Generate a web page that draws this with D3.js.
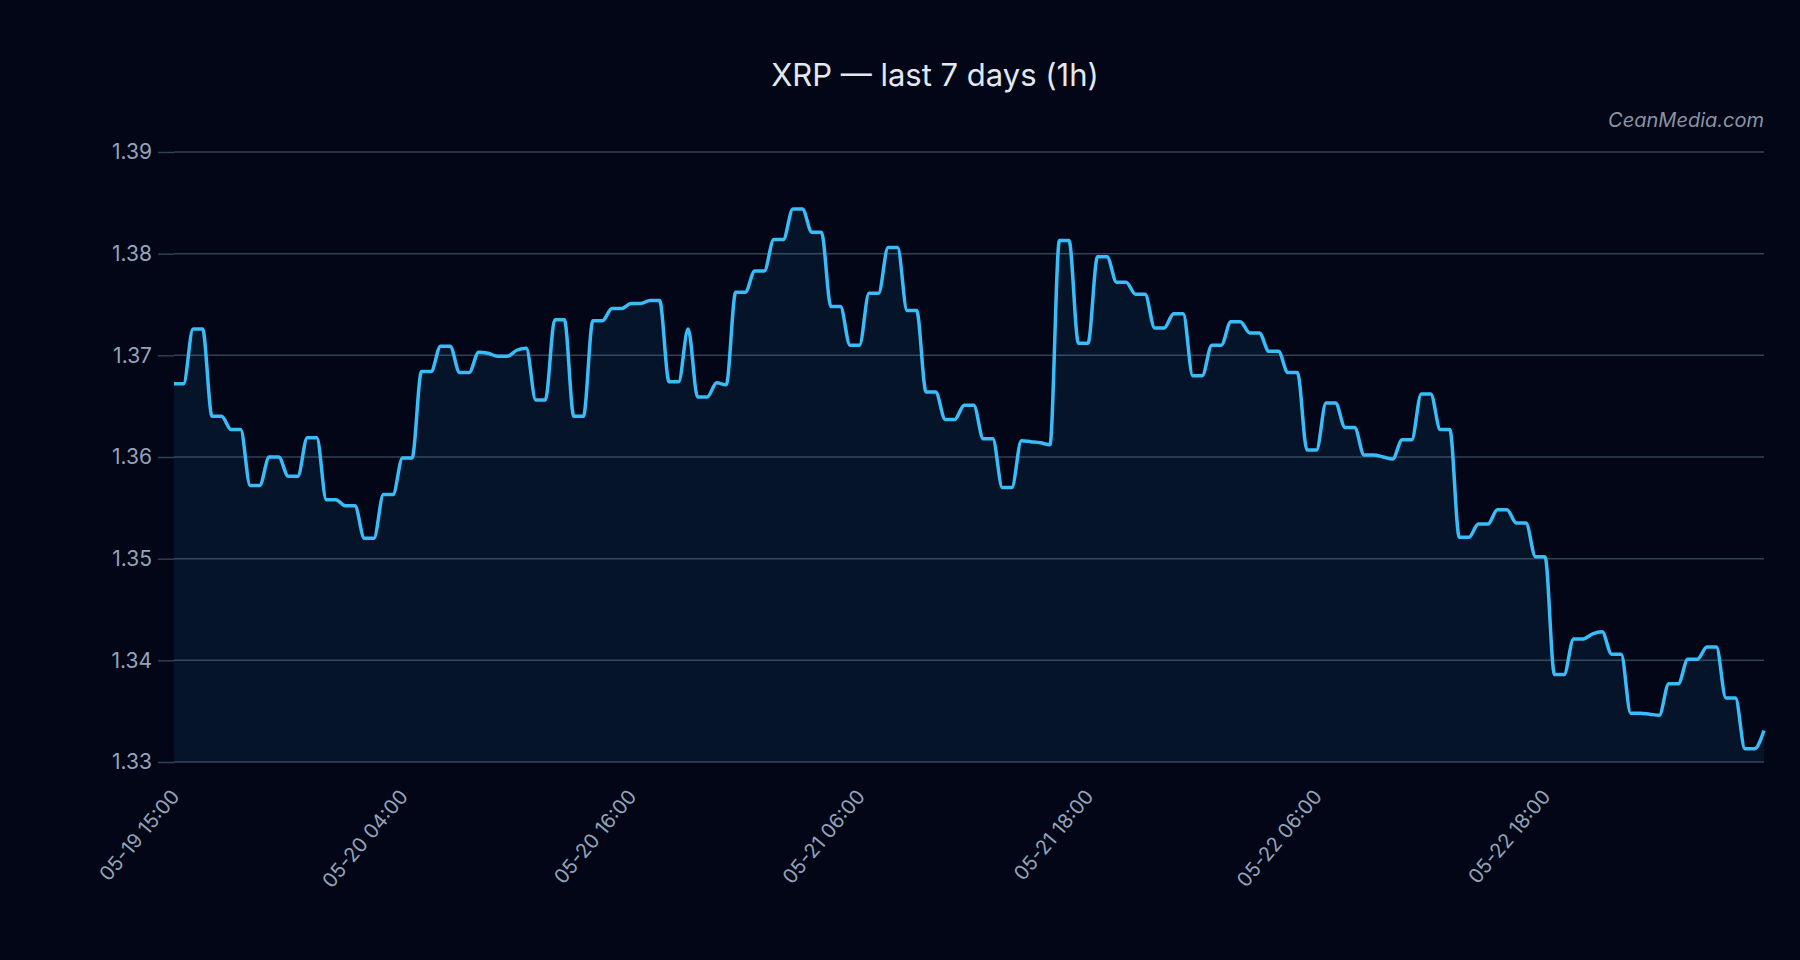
<!DOCTYPE html>
<html>
<head>
<meta charset="utf-8">
<script src="https://cdn.jsdelivr.net/npm/d3@7"></script>
<style>
  body { margin: 0; background: #020617; }
</style>
</head>
<body>
<script>
// hourly closes
let prices = [
    1.3672, 1.3672, 1.3726, 1.3726, 1.3640, 1.3640, 1.3627, 1.3627, 1.3572, 1.3572,
    1.3600, 1.3600, 1.3581, 1.3581, 1.3619, 1.3619, 1.3558, 1.3558, 1.3552, 1.3552,
    1.3520, 1.3520, 1.3563, 1.3563, 1.3599, 1.3599, 1.3684, 1.3684, 1.3709, 1.3709,
    1.3683, 1.3683, 1.3703, 1.3702, 1.3699, 1.3699, 1.3705, 1.3707, 1.3656, 1.3656,
    1.3735, 1.3735, 1.3640, 1.3640, 1.3734, 1.3734, 1.3746, 1.3746, 1.3751, 1.3751,
    1.3754, 1.3754, 1.3674, 1.3674, 1.3726, 1.3659, 1.3659, 1.3673, 1.3671, 1.3762,
    1.3762, 1.3783, 1.3783, 1.3814, 1.3814, 1.3844, 1.3844, 1.3821, 1.3821, 1.3748,
    1.3748, 1.3710, 1.3710, 1.3761, 1.3761, 1.3806, 1.3806, 1.3744, 1.3744, 1.3664,
    1.3664, 1.3637, 1.3637, 1.3651, 1.3651, 1.3618, 1.3618, 1.3570, 1.3570, 1.3616,
    1.3615, 1.3614, 1.3612, 1.3813, 1.3813, 1.3712, 1.3712, 1.3797, 1.3797, 1.3772,
    1.3772, 1.3760, 1.3760, 1.3727, 1.3727, 1.3741, 1.3741, 1.3680, 1.3680, 1.3710,
    1.3710, 1.3733, 1.3733, 1.3722, 1.3722, 1.3704, 1.3704, 1.3683, 1.3683, 1.3607,
    1.3607, 1.3653, 1.3653, 1.3629, 1.3629, 1.3602, 1.3602, 1.3600, 1.3598, 1.3617,
    1.3617, 1.3662, 1.3662, 1.3627, 1.3627, 1.3521, 1.3521, 1.3534, 1.3534, 1.3548,
    1.3548, 1.3535, 1.3535, 1.3502, 1.3502, 1.3386, 1.3386, 1.3421, 1.3421, 1.3426,
    1.3428, 1.3406, 1.3406, 1.3348, 1.3348, 1.3347, 1.3346, 1.3377, 1.3377, 1.3401,
    1.3401, 1.3413, 1.3413, 1.3363, 1.3363, 1.3313, 1.3313, 1.3331
];

let tickIndex = [0, 24, 48, 72, 96, 120, 144];
let tickLabels = ["05-19 15:00", "05-20 04:00", "05-20 16:00", "05-21 06:00",
    "05-21 18:00", "05-22 06:00", "05-22 18:00"];
let yTicks = [1.33, 1.34, 1.35, 1.36, 1.37, 1.38, 1.39];

function main(){
    let W = 1800, H = 960;
    let margin = {top: 152, right: 36, bottom: 198, left: 174};
    let width = W - margin.left - margin.right;
    let height = H - margin.top - margin.bottom;
    let font = "Inter, 'Liberation Sans', sans-serif";

    let svg = d3.select("body").append("svg")
        .attr("width", W)
        .attr("height", H)
        .style("background-color", "#020617")
        .style("font-family", font);

    svg.append("text")
        .attr("x", 935)
        .attr("y", 86)
        .attr("text-anchor", "middle")
        .attr("fill", "#e2e8f0")
        .attr("font-size", 31)
        .text("XRP \u2014 last 7 days (1h)");

    svg.append("text")
        .attr("x", margin.left + width)
        .attr("y", 127)
        .attr("text-anchor", "end")
        .attr("fill", "#8b93a3")
        .attr("font-size", 20)
        .attr("font-style", "italic")
        .text("CeanMedia.com");

    let g = svg.append("g")
        .attr("transform", "translate(" + margin.left + "," + margin.top + ")");

    let xScale = d3.scaleLinear().domain([0, prices.length - 1]).range([0, width]);
    let yScale = d3.scaleLinear().domain([1.33, 1.39]).range([height, 0]);

    // grid
    g.append("g").selectAll("line")
        .data(yTicks)
        .enter()
        .append("line")
        .attr("x1", 0)
        .attr("x2", width)
        .attr("y1", d => yScale(d))
        .attr("y2", d => yScale(d))
        .attr("stroke", "#334155")
        .attr("stroke-width", 1.5);

    let area = d3.area()
        .x((d, i) => xScale(i))
        .y0(height)
        .y1(d => yScale(d))
        .curve(d3.curveMonotoneX);

    let line = d3.line()
        .x((d, i) => xScale(i))
        .y(d => yScale(d))
        .curve(d3.curveMonotoneX);

    g.append("path")
        .datum(prices)
        .attr("d", area)
        .attr("fill", "#38bdf8")
        .attr("fill-opacity", 0.08);

    g.append("path")
        .datum(prices)
        .attr("d", line)
        .attr("fill", "none")
        .attr("stroke", "#38bdf8")
        .attr("stroke-width", 3.5)
        .attr("stroke-linejoin", "round");

    let yAxis = g.append("g")
        .call(d3.axisLeft(yScale).tickValues(yTicks).tickFormat(d3.format(".2f"))
            .tickSize(16).tickPadding(6));
    yAxis.select(".domain").remove();
    yAxis.selectAll("line").attr("stroke", "#334155").attr("stroke-width", 1.5);
    yAxis.selectAll("text")
        .attr("fill", "#94a3b8")
        .attr("font-size", 21)
        .attr("font-family", font);

    let xAxis = g.append("g")
        .attr("transform", "translate(0," + height + ")")
        .call(d3.axisBottom(xScale).tickValues(tickIndex)
            .tickFormat((d, i) => tickLabels[i]).tickSize(0));
    xAxis.select(".domain").remove();
    xAxis.selectAll("text")
        .attr("fill", "#94a3b8")
        .attr("font-size", 20)
        .attr("font-family", font)
        .attr("text-anchor", "end")
        .attr("dy", null)
        .attr("y", null)
        .attr("transform", "translate(6,35) rotate(-50)");
}

main();
</script>
</body>
</html>
